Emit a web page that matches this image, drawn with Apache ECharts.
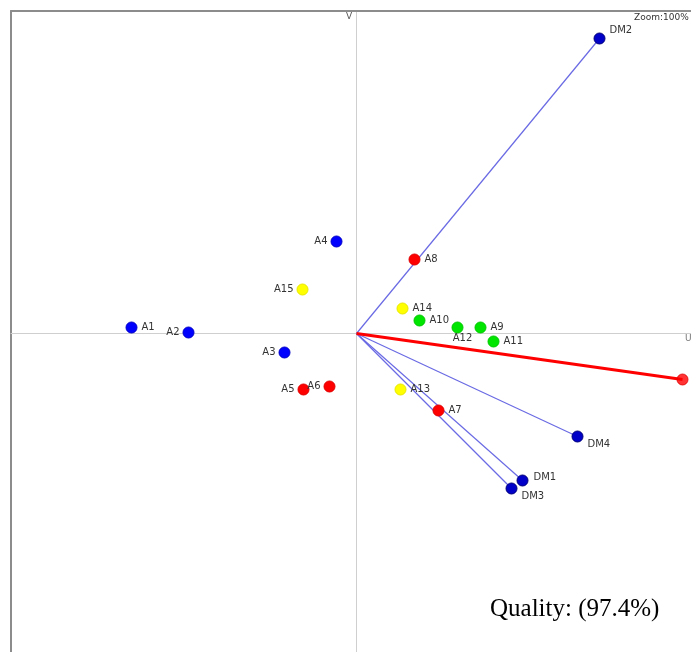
<!DOCTYPE html>
<html>
<head>
<meta charset="utf-8">
<script src="https://cdn.jsdelivr.net/npm/echarts@6/dist/echarts.min.js"></script>
<style>
  html, body { margin: 0; padding: 0; background: #fff; }
  #chart { width: 691px; height: 652px; }
</style>
</head>
<body>
<div id="chart"></div>
<script>
// Observation scores on the first two components (U, V), one array per group
const blueNames = ['A1', 'A2', 'A3', 'A4'];
const blueU = [-2.25, -1.68, -0.72, -0.20];
const blueV = [0.06, 0.01, -0.19, 0.92];

const redNames = ['A5', 'A6', 'A7', 'A8'];
const redU = [-0.53, -0.27, 0.82, 0.58];
const redV = [-0.56, -0.53, -0.77, 0.74];

const greenNames = ['A9', 'A10', 'A11', 'A12'];
const greenU = [1.24, 0.63, 1.37, 1.01];
const greenV = [0.06, 0.13, -0.08, 0.06];

const yellowNames = ['A13', 'A14', 'A15'];
const yellowU = [0.44, 0.46, -0.54];
const yellowV = [-0.56, 0.25, 0.44];

// Variable loadings drawn as vectors from the origin
const dmNames = ['DM1', 'DM2', 'DM3', 'DM4'];
const dmU = [1.66, 2.43, 1.55, 2.21];
const dmV = [-1.47, 2.95, -1.55, -1.03];

// Supplementary (highlighted) vector
const supU = 3.26;
const supV = -0.46;

const qualityText = 'Quality: (97.4%)';

// Visible window of the factor plane
const uRange = [-3.455, 3.345];
const vRange = [-3.185, 3.225];

// Label placement for each point
const labelSide = {
  A1: 'right', A2: 'left', A3: 'left', A4: 'left', A5: 'left', A6: 'left',
  A7: 'right', A8: 'right', A9: 'right', A10: 'right', A11: 'right', A12: 'below',
  A13: 'right', A14: 'right', A15: 'left',
  DM1: 'right-up', DM2: 'right-high', DM3: 'right-low', DM4: 'right-low'
};

function labelFor(name) {
  const side = labelSide[name];
  if (side === 'left') return { position: 'left', distance: 3 };
  if (side === 'below') return { position: 'bottom', distance: 0, offset: [5, 0] };
  if (side === 'right-up') return { position: 'right', distance: 5, offset: [0, -3] };
  if (side === 'right-high') return { position: 'right', distance: 4, offset: [0, -8] };
  if (side === 'right-low') return { position: 'right', distance: 4, offset: [0, 8] };
  return { position: 'right', distance: 4 };
}

function points(names, us, vs) {
  return names.map((n, i) => ({ name: n, value: [us[i], vs[i]], label: labelFor(n) }));
}

const labelStyle = {
  show: true,
  formatter: '{b}',
  fontFamily: 'DejaVu Sans',
  fontSize: 10,
  color: '#333'
};

function scatter(names, us, vs, fill, edge) {
  return {
    type: 'scatter',
    symbol: 'circle',
    symbolSize: 11,
    z: 5,
    itemStyle: { color: fill, borderColor: edge, borderWidth: 1, opacity: 1 },
    label: labelStyle,
    data: points(names, us, vs)
  };
}

const series = [];

// Loading vectors
dmNames.forEach((n, i) => {
  series.push({
    type: 'line',
    symbol: 'none',
    silent: true,
    z: 2,
    lineStyle: { color: '#6a6ae4', width: 1.2 },
    data: [[0, 0], [dmU[i], dmV[i]]]
  });
});

// Supplementary vector
series.push({
  type: 'line',
  symbol: 'none',
  z: 3,
  lineStyle: { color: '#ff0000', width: 3 },
  data: [[0, 0], [supU, supV]]
});
series.push({
  type: 'scatter',
  symbol: 'circle',
  symbolSize: 11,
  z: 5,
  itemStyle: { color: '#ff0000', borderColor: '#e00000', borderWidth: 1 },
  data: [[supU, supV]]
});

series.push(scatter(blueNames, blueU, blueV, '#0000ff', '#0000c8'));
series.push(scatter(redNames, redU, redV, '#ff0000', '#e00000'));
series.push(scatter(greenNames, greenU, greenV, '#00e600', '#00c800'));
series.push(scatter(yellowNames, yellowU, yellowV, '#ffff00', '#e8e800'));
series.push(scatter(dmNames, dmU, dmV, '#0000c8', '#00007a'));

const hidden = { axisTick: { show: false }, axisLabel: { show: false }, splitLine: { show: false } };

const chart = echarts.init(document.getElementById('chart'), null, { renderer: 'canvas' });
chart.setOption({
  animation: false,
  backgroundColor: '#ffffff',
  grid: { left: 11, top: 11, right: 0, bottom: 0 },
  xAxis: [
    // central U axis through the origin
    Object.assign({
      type: 'value', min: uRange[0], max: uRange[1],
      axisLine: { onZero: true, lineStyle: { color: '#cfcfcf', width: 1 } }
    }, hidden),
    // frame edge along the top
    Object.assign({
      type: 'value', position: 'top', min: uRange[0], max: uRange[1],
      axisLine: { show: true, onZero: false, lineStyle: { color: '#8c8c8c', width: 2 } }
    }, hidden)
  ],
  yAxis: [
    // central V axis through the origin
    Object.assign({
      type: 'value', min: vRange[0], max: vRange[1],
      axisLine: { onZero: true, lineStyle: { color: '#cfcfcf', width: 1 } }
    }, hidden),
    // frame edge along the left
    Object.assign({
      type: 'value', position: 'left', min: vRange[0], max: vRange[1],
      axisLine: { show: true, onZero: false, lineStyle: { color: '#8c8c8c', width: 2 } }
    }, hidden)
  ],
  graphic: [
    { type: 'text', left: 346, top: 12, z: 10,
      style: { text: 'V', fontFamily: 'DejaVu Sans', fontSize: 9, fill: '#555' } },
    { type: 'text', left: 685, top: 334, z: 10,
      style: { text: 'U', fontFamily: 'DejaVu Sans', fontSize: 9, fill: '#777' } },
    { type: 'text', left: 634, top: 13, z: 10,
      style: { text: 'Zoom:100%', fontFamily: 'DejaVu Sans', fontSize: 9, fill: '#333' } },
    { type: 'text', left: 490, top: 597, z: 10,
      style: { text: qualityText, fontFamily: 'Liberation Serif', fontSize: 25, fill: '#000' } }
  ],
  series: series
});
</script>
</body>
</html>
